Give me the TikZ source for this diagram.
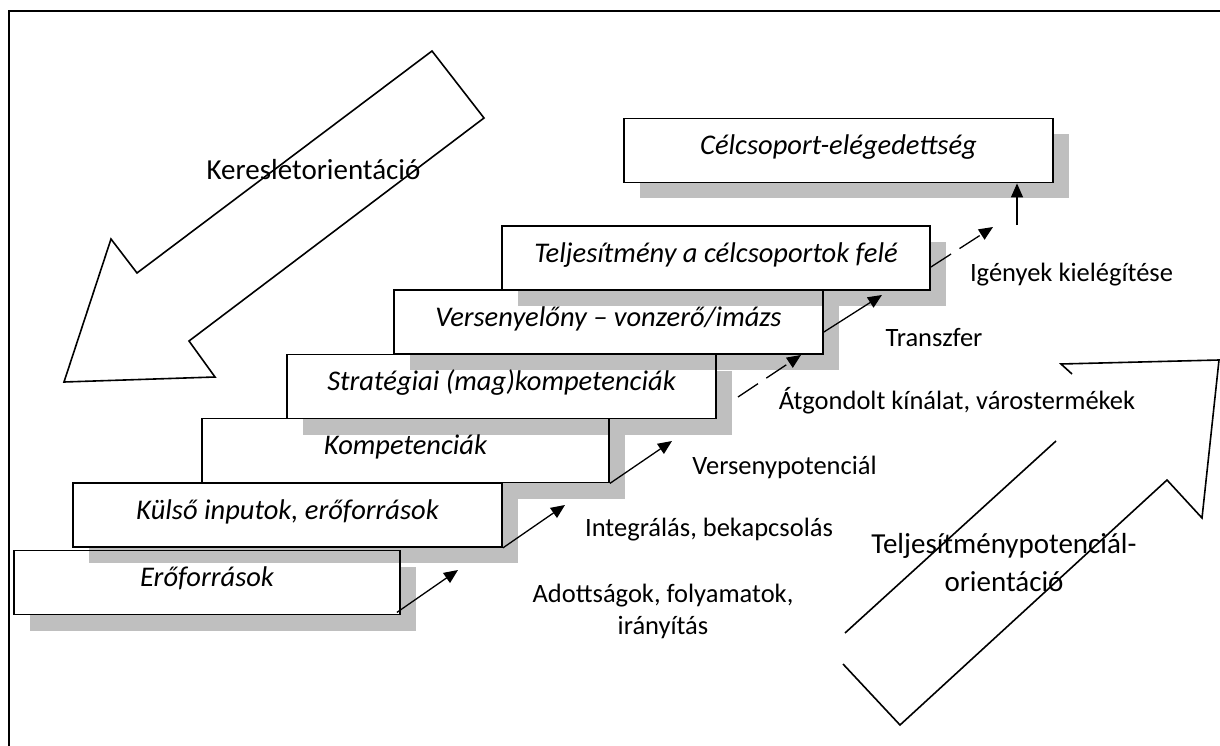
\documentclass[tikz,border=0pt]{standalone}
\usepackage{fontspec}
\setmainfont{Carlito}
\usetikzlibrary{arrows.meta,shadows,calc}

\begin{document}
\begin{tikzpicture}[x=1pt,y=-1pt,
  stepbox/.style={draw=black, line width=1.8pt, fill=white, minimum height=64pt, inner sep=0pt,
    font=\fontsize{28.5}{34}\selectfont\itshape, text height=18pt, text depth=10pt,
    drop shadow={shadow xshift=16pt, shadow yshift=-16pt, fill=black, opacity=0.25}},
  lbl/.style={inner sep=0pt, font=\fontsize{26.5}{32}\selectfont, align=center},
  biglbl/.style={inner sep=0pt, font=\fontsize{29}{38}\selectfont, align=center},
  conn/.style={line width=1.3pt, -{Triangle[length=14pt,width=12pt]}},
  dconn/.style={conn, dash pattern=on 24pt off 10pt},
  bigarrow/.style={line width=1.6pt, line join=miter},
  frame/.style={line width=2pt}
]
\useasboundingbox (0,0) rectangle (1220,746);

% outer frame
\coordinate (fr1) at (1220,11);
\coordinate (fr2) at (9,11);
\coordinate (fr3) at (9,746);
\draw[frame] (fr1) -- (fr2) -- (fr3);

% big arrow: Keresletorientacio
\draw[bigarrow] (432,51) -- (484,118) -- (189,341) -- (215,377) -- (64,382) -- (111,239) -- (137,273) -- cycle;
\node[biglbl, anchor=base] (kereslet) at (313.5,180) {Keresletorientáció};

% big arrow: Teljesitmenypotencial-orientacio (visible parts)
\draw[bigarrow] (1072,374) -- (1061,364) -- (1219,360) -- (1202,518) -- (1167,480) -- (900,725) -- (843,664);
\draw[bigarrow] (845,633) -- (1056,441);
\node[biglbl] (teljor) at (1004,563) {Teljesítménypotenciál-\\orientáció};

% steps (bottom to top)
\node[stepbox, minimum width=386pt] (b1) at (207,582.5) {Erőforrások};
\node[stepbox, minimum width=407pt] (b3) at (405.5,450.5) {Kompetenciák};
\node[stepbox, minimum width=429pt] (b2) at (287.5,515) {Külső inputok, erőforrások};
\node[stepbox, minimum width=429pt] (b4) at (501.5,386.5) {Stratégiai (mag)kompetenciák};
\node[stepbox, minimum width=429pt] (b5) at (608.5,322) {Versenyelőny – vonzerő/imázs};
\node[stepbox, minimum width=428pt] (b6) at (716,258) {Teljesítmény a célcsoportok felé};
\node[stepbox, minimum width=429pt] (b7) at (838.5,150.5) {Célcsoport-elégedettség};

% labels
\node[lbl, anchor=base] (l7) at (1071.5,281) {Igények kielégítése};
\node[lbl, anchor=base] (l6) at (934,346) {Transzfer};
\node[lbl, anchor=base] (l5) at (957,409) {Átgondolt kínálat, várostermékek};
\node[lbl, anchor=base] (l4) at (784.5,474) {Versenypotenciál};
\node[lbl, anchor=base] (l3) at (709,536) {Integrálás, bekapcsolás};
\node[lbl] (l2) at (663,611.5) {Adottságok, folyamatok,\\irányítás};

% connectors
\coordinate (t1) at (458,570);
\coordinate (t2) at (565,505);
\coordinate (t3) at (672,441);
\coordinate (s4) at (738,397);
\coordinate (t4) at (801,355);
\coordinate (t5) at (882,295);
\coordinate (t6) at (993,227);
\coordinate (s7) at (1017,225);
\draw[conn] ($(b1.south east)+(-4,-3)$) -- (t1);
\draw[conn] (b2.south east) -- (t2);
\draw[conn] (b3.south east) -- (t3);
\draw[dconn] (s4) -- (t4);
\draw[conn] ($(b5.east)+(0,10)$) -- (t5);
\draw[dconn] ($(b6.east)+(0,9)$) -- (t6);
\draw[conn] (s7) -- (s7 |- b7.south);
\end{tikzpicture}
\end{document}
